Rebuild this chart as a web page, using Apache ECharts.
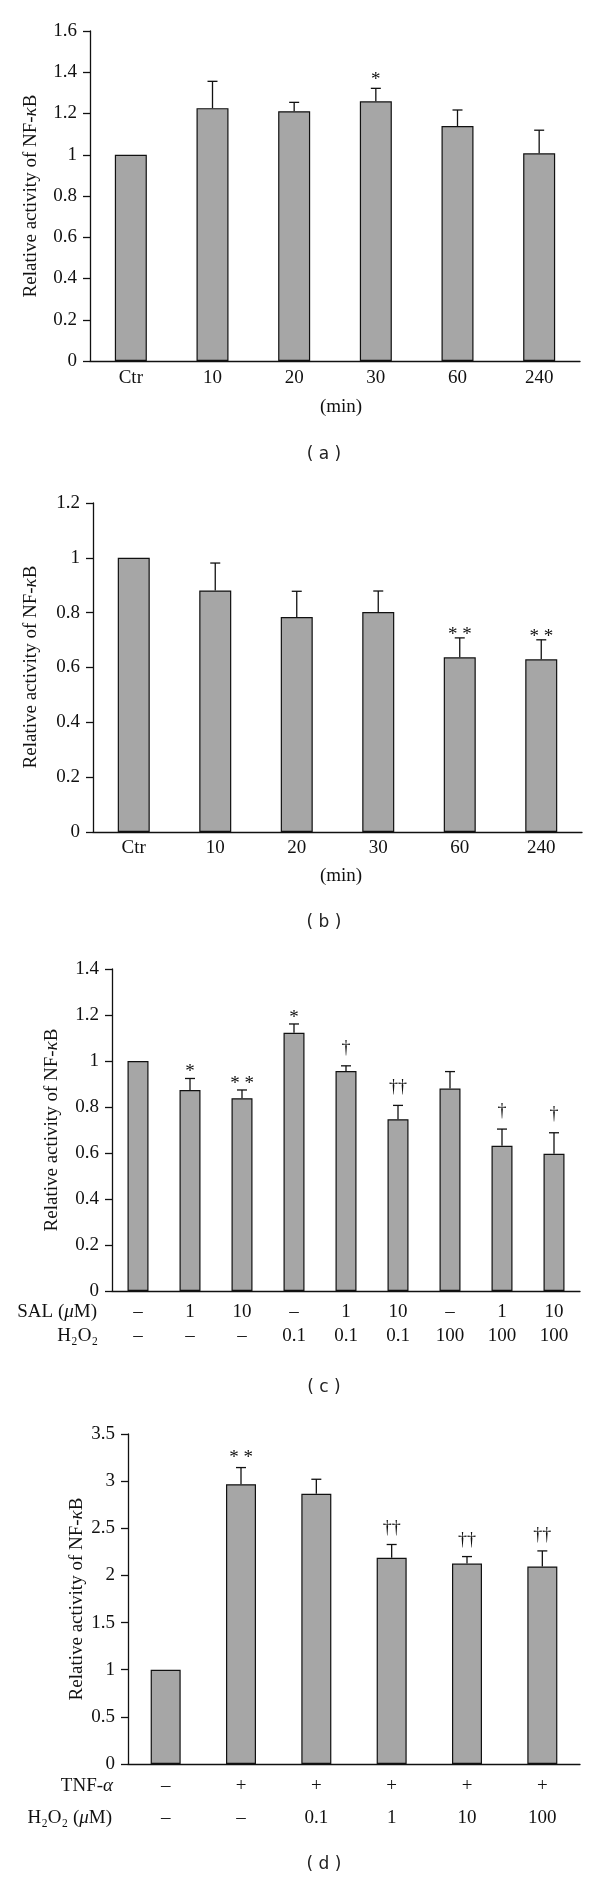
<!DOCTYPE html>
<html>
<head>
<meta charset="utf-8">
<script src="https://cdn.jsdelivr.net/npm/echarts@6/dist/echarts.min.js"></script>
<style>
html,body{margin:0;padding:0;background:#fff;}
#main{width:600px;height:1882px;}
</style>
</head>
<body>
<div id="main"></div>
<script>
// ---------- DATA ----------
const catsA = ['Ctr', '10', '20', '30', '60', '240'];
const valsA = [1.0, 1.226, 1.211, 1.259, 1.139, 1.007];
const errA  = [null, 1.356, 1.254, 1.322, 1.217, 1.119];
const marksA = ['', '', '', '*', '', ''];

const catsB = ['Ctr', '10', '20', '30', '60', '240'];
const valsB = [1.0, 0.881, 0.784, 0.802, 0.637, 0.630];
const errB  = [null, 0.981, 0.878, 0.879, 0.708, 0.701];
const marksB = ['', '', '', '', '* *', '* *'];

const salC  = ['–', '1', '10', '–', '1', '10', '–', '1', '10'];
const h2o2C = ['–', '–', '–', '0.1', '0.1', '0.1', '100', '100', '100'];
const valsC = [1.0, 0.874, 0.838, 1.123, 0.956, 0.747, 0.880, 0.631, 0.597];
const errC  = [null, 0.924, 0.874, 1.161, 0.979, 0.807, 0.954, 0.704, 0.688];
const marksC = ['', '*', '* *', '*', '†', '††', '', '†', '†'];

const tnfD  = ['–', '+', '+', '+', '+', '+'];
const h2o2D = ['–', '–', '0.1', '1', '10', '100'];
const valsD = [1.0, 2.967, 2.865, 2.187, 2.126, 2.095];
const errD  = [null, 3.144, 3.02, 2.328, 2.2, 2.26];
const marksD = ['', '* *', '', '††', '††', '††'];

const yTicksA = {min: 0, max: 1.6, interval: 0.2};
const yTicksB = {min: 0, max: 1.2, interval: 0.2};
const yTicksC = {min: 0, max: 1.4, interval: 0.2};
const yTicksD = {min: 0, max: 3.5, interval: 0.5};

// ---------- STYLE ----------
const SERIF = "'Liberation Serif', 'Times New Roman', serif";
const SANS = "'DejaVu Sans', Verdana, sans-serif";
const BAR_COLOR = '#a6a6a6';
const INK = '#111';
const FS = 19;

const grids = [
  {left: 90,  top: 31,   width: 490, height: 330},
  {left: 93,  top: 503,  width: 489, height: 329},
  {left: 112, top: 969,  width: 468, height: 322},
  {left: 128, top: 1434, width: 452, height: 330}
];

function yAxisOf(gi, t) {
  return {
    type: 'value', gridIndex: gi, min: t.min, max: t.max, interval: t.interval,
    axisLine: {show: true, lineStyle: {color: INK, width: 1.3}},
    axisTick: {show: true, inside: false, length: 7, lineStyle: {color: INK, width: 1.3}},
    splitLine: {show: false},
    axisLabel: {fontFamily: SERIF, fontSize: FS, color: INK, margin: 13}
  };
}
function xAxisOf(gi, cats, formatter, margin, lineHeight) {
  return {
    type: 'category', gridIndex: gi, data: cats,
    axisLine: {show: true, lineStyle: {color: INK, width: 1.3}},
    axisTick: {show: false},
    axisLabel: {fontFamily: SERIF, fontSize: FS, color: INK, margin: margin,
                lineHeight: lineHeight, interval: 0, formatter: formatter}
  };
}
function barSeries(gi, vals, width) {
  return {
    type: 'bar', xAxisIndex: gi, yAxisIndex: gi, data: vals, barWidth: width,
    itemStyle: {color: BAR_COLOR, borderColor: INK, borderWidth: 1.2},
    silent: true, animation: false
  };
}
function errSeries(gi, vals, errs, marks, starOff, dagOff) {
  return {
    type: 'custom', xAxisIndex: gi, yAxisIndex: gi, animation: false, silent: true,
    data: vals.map((v, i) => [i, errs[i] == null ? v : errs[i]]),
    renderItem: function (params, api) {
      const i = params.dataIndex;
      const top = api.coord([i, vals[i]]);
      const e = api.coord([i, errs[i] == null ? vals[i] : errs[i]]);
      const children = [];
      if (errs[i] != null) {
        children.push({type: 'line', shape: {x1: top[0], y1: top[1], x2: e[0], y2: e[1]},
                       style: {stroke: INK, lineWidth: 1.3}});
        children.push({type: 'line', shape: {x1: e[0] - 5, y1: e[1], x2: e[0] + 5, y2: e[1]},
                       style: {stroke: INK, lineWidth: 1.3}});
      }
      const m = marks[i];
      if (m) {
        const isDag = m.indexOf('†') >= 0;
        const off = isDag ? dagOff : starOff;
        children.push({type: 'text', x: e[0], y: e[1] - off,
          style: {text: m, font: (isDag ? '18px ' : '19px ') + SERIF, fill: INK,
                  align: 'center', verticalAlign: 'middle'}});
      }
      return {type: 'group', children: children};
    }
  };
}

const catsIdxC = salC.map((_, i) => String(i));
const catsIdxD = tnfD.map((_, i) => String(i));

function gtext(x, y, text, opts) {
  return Object.assign({type: 'text', x: x, y: y, silent: true,
    style: Object.assign({text: text, font: FS + 'px ' + SERIF, fill: INK,
                          align: 'center', verticalAlign: 'middle'}, opts || {})});
}
const richI = {i: {fontFamily: SERIF, fontStyle: 'italic', fontSize: FS, fill: INK}};
function ytitle(x, y) {
  return {type: 'text', x: x, y: y, rotation: Math.PI / 2, silent: true,
    style: {text: 'Relative activity of NF-{i|κ}B', font: FS + 'px ' + SERIF, fill: INK,
            align: 'center', verticalAlign: 'middle', rich: richI}};
}

const option = {
  animation: false,
  grid: grids.map(g => Object.assign({containLabel: false}, g)),
  xAxis: [
    xAxisOf(0, catsA, null, 7, 20),
    xAxisOf(1, catsB, null, 6, 20),
    xAxisOf(2, catsIdxC, (v, i) => salC[i] + '\n' + h2o2C[i], 9, 24),
    xAxisOf(3, catsIdxD, (v, i) => tnfD[i] + '\n' + h2o2D[i], 6, 32)
  ],
  yAxis: [yAxisOf(0, yTicksA), yAxisOf(1, yTicksB), yAxisOf(2, yTicksC), yAxisOf(3, yTicksD)],
  series: [
    barSeries(0, valsA, 32), errSeries(0, valsA, errA, marksA, 8, 14),
    barSeries(1, valsB, 32), errSeries(1, valsB, errB, marksB, 3, 14),
    barSeries(2, valsC, 21), errSeries(2, valsC, errC, marksC, 6, 18),
    barSeries(3, valsD, 30), errSeries(3, valsD, errD, marksD, 10, 16)
  ],
  graphic: {elements: [
    ytitle(31, 196), ytitle(31, 667), ytitle(52, 1130), ytitle(77, 1599),
    gtext(341, 407, '(min)'),
    gtext(341, 876, '(min)'),
    gtext(97, 1312, 'SAL ({i|μ}M)', {align: 'right', rich: richI}),
    gtext(98, 1336, 'H₂O₂', {align: 'right'}),
    gtext(113, 1786, 'TNF-{i|α}', {align: 'right', rich: richI}),
    gtext(112, 1818, 'H₂O₂ ({i|μ}M)', {align: 'right', rich: richI}),
    gtext(324, 455, '( a )', {font: '17px ' + SANS, fill: '#222'}),
    gtext(324, 923, '( b )', {font: '17px ' + SANS, fill: '#222'}),
    gtext(324, 1388, '( c )', {font: '17px ' + SANS, fill: '#222'}),
    gtext(324, 1865, '( d )', {font: '17px ' + SANS, fill: '#222'})
  ]}
};

const chart = echarts.init(document.getElementById('main'), null, {renderer: 'canvas', width: 600, height: 1882});
chart.setOption(option);
</script>
</body>
</html>
